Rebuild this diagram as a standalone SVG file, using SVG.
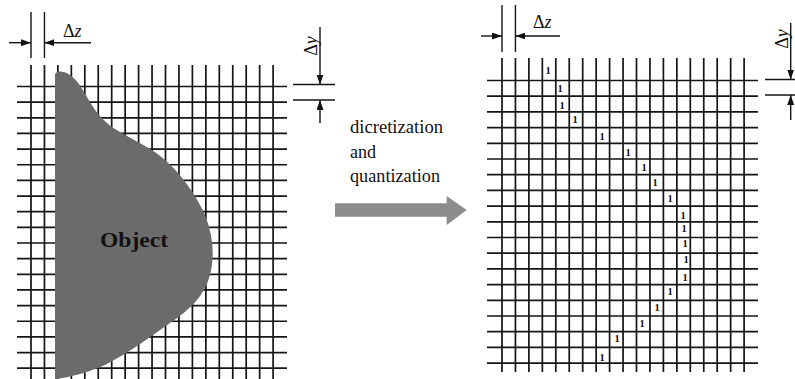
<svg xmlns="http://www.w3.org/2000/svg" width="795" height="379" viewBox="0 0 795 379">
<style>
.grid{stroke:#151515;stroke-width:1.7;fill:none}
.dim{stroke:#151515;stroke-width:1.4;fill:none}
.lbl{font-family:"Liberation Serif","Times New Roman",serif;fill:#111}
.one{font-family:"Liberation Serif","Times New Roman",serif;font-size:10.5px;font-weight:bold;fill:#111;text-anchor:middle}
</style>
<defs>
<marker id="ah" viewBox="0 0 10 7" refX="10" refY="3.5" markerWidth="10" markerHeight="7" markerUnits="userSpaceOnUse" orient="auto">
<path d="M0,0 L10,3.5 L0,7 Z" fill="#111"/>
</marker>
</defs>
<rect width="795" height="379" fill="#fff"/>

<g id="left-grid" class="grid">
<path d="M31,65V379M44.45,65V379M57.9,65V379M71.35,65V379M84.8,65V379M98.25,65V379M111.7,65V379M125.15,65V379M138.6,65V379M152.05,65V379M165.5,65V379M178.95,65V379M192.4,65V379M205.85,65V379M219.3,65V379M232.75,65V379M246.2,65V379M259.65,65V379M273.1,65V379"/>
<path d="M17,86.5H287M17,102.15H287M17,117.8H287M17,133.45H287M17,149.1H287M17,164.75H287M17,180.4H287M17,196.05H287M17,211.7H287M17,227.35H287M17,243H287M17,258.65H287M17,274.3H287M17,289.95H287M17,305.6H287M17,321.25H287M17,336.9H287M17,352.55H287M17,368.2H287"/>
</g>

<g id="object">
<path d="M55,75 C55,71 62,70 70,75 C78,80 84,92 90,102 C97,114 106,124 120,132 C135,141 152,148 165,160 C182,175 196,195 205,215 C213,235 215,255 210,275 C205,295 190,310 170,323 C150,337 130,352 105,365 C90,372 70,377 57,379 L55,379 Z" fill="#6b6b6b"/>
<text class="lbl" x="100" y="247" font-size="20" font-weight="bold" fill="#0a0a0a" textLength="68" lengthAdjust="spacingAndGlyphs">Object</text>
</g>

<g id="left-dims">
<path class="dim" d="M31,12V58M44.45,12V58"/>
<path class="dim" d="M9,42.7H31" marker-end="url(#ah)"/>
<path class="dim" d="M91,42.7H44.45" marker-end="url(#ah)"/>
<text class="lbl" x="63" y="36.5" font-size="18">Δ<tspan font-style="italic">z</tspan></text>
<path class="dim" d="M293,84.5H335M293,100H335"/>
<path class="dim" d="M320,27V84.5" marker-end="url(#ah)"/>
<path class="dim" d="M320,123V100" marker-end="url(#ah)"/>
<text class="lbl" font-size="18" text-anchor="middle" transform="translate(317,46) rotate(-90)">Δ<tspan font-style="italic">y</tspan></text>
</g>

<g id="process">
<text class="lbl" font-size="18" x="350" y="133" textLength="93" lengthAdjust="spacingAndGlyphs">dicretization</text>
<text class="lbl" font-size="18" x="350" y="158">and</text>
<text class="lbl" font-size="18" x="350" y="182" textLength="90" lengthAdjust="spacingAndGlyphs">quantization</text>
<polygon points="335,203.3 446.7,203.3 446.7,196 466.7,210 446.7,225 446.7,216.7 335,216.7" fill="#8c8c8c"/>
</g>

<g id="right-grid" class="grid">
<path d="M502,58V372M515.45,58V372M528.9,58V372M542.35,58V372M555.8,58V372M569.25,58V372M582.7,58V372M596.15,58V372M609.6,58V372M623.05,58V372M636.5,58V372M649.95,58V372M663.4,58V372M676.85,58V372M690.3,58V372M703.75,58V372M717.2,58V372M730.65,58V372M744.1,58V372"/>
<path d="M487,80.5H758M487,96.2H758M487,111.9H758M487,127.6H758M487,143.3H758M487,159H758M487,174.7H758M487,190.4H758M487,206.1H758M487,221.8H758M487,237.5H758M487,253.2H758M487,268.9H758M487,284.6H758M487,300.3H758M487,316H758M487,331.7H758M487,347.4H758M487,363.1H758"/>
</g>

<g id="ones">
<text class="one" x="548" y="73.5">1</text>
<text class="one" x="560" y="91.5">1</text>
<text class="one" x="562" y="108.5">1</text>
<text class="one" x="575" y="122.5">1</text>
<text class="one" x="602" y="139.5">1</text>
<text class="one" x="628" y="155.5">1</text>
<text class="one" x="644" y="170.5">1</text>
<text class="one" x="655" y="185.5">1</text>
<text class="one" x="670" y="201.5">1</text>
<text class="one" x="683" y="218.5">1</text>
<text class="one" x="684" y="231.5">1</text>
<text class="one" x="685" y="246.5">1</text>
<text class="one" x="686" y="262.5">1</text>
<text class="one" x="685" y="280.5">1</text>
<text class="one" x="670" y="294.5">1</text>
<text class="one" x="657" y="310.5">1</text>
<text class="one" x="642" y="326.5">1</text>
<text class="one" x="617" y="341.5">1</text>
<text class="one" x="602" y="360.5">1</text>
</g>

<g id="right-dims">
<path class="dim" d="M502,5V52M515.45,5V52"/>
<path class="dim" d="M481,36H502" marker-end="url(#ah)"/>
<path class="dim" d="M560,36H515.45" marker-end="url(#ah)"/>
<text class="lbl" x="533" y="28" font-size="18">Δ<tspan font-style="italic">z</tspan></text>
<path class="dim" d="M765,79.5H795M765,95H795"/>
<path class="dim" d="M790.7,23V79.5" marker-end="url(#ah)"/>
<path class="dim" d="M790.7,120V95" marker-end="url(#ah)"/>
<text class="lbl" font-size="18" text-anchor="middle" transform="translate(788,39) rotate(-90)">Δ<tspan font-style="italic">y</tspan></text>
</g>
</svg>
